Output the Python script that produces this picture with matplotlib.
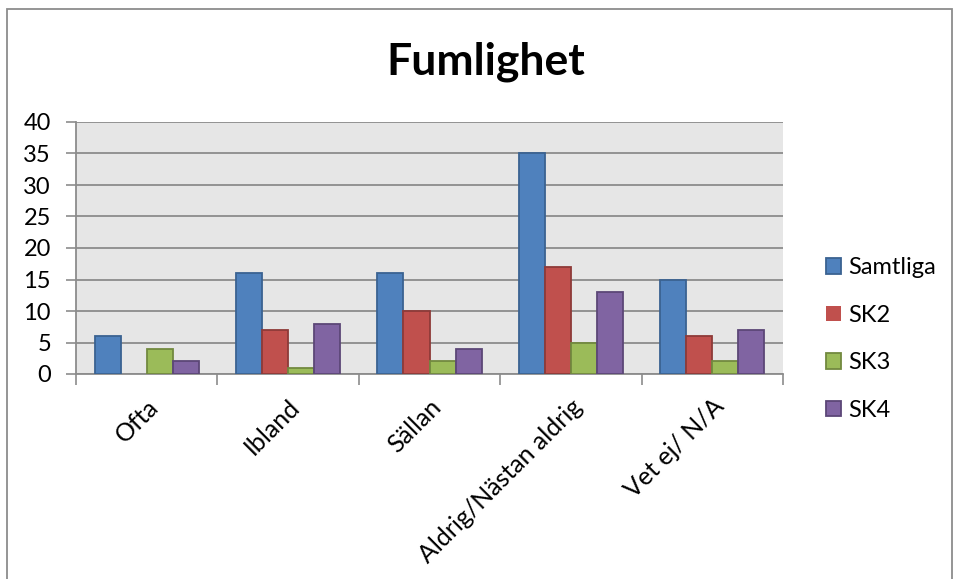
import matplotlib
matplotlib.use("Agg")
import matplotlib.pyplot as plt
import matplotlib.transforms as mtransforms
import numpy as np
from matplotlib.patches import Rectangle

categories = ["Ofta", "Ibland", "Sällan", "Aldrig/Nästan aldrig", "Vet ej/ N/A"]
series_names = ["Samtliga", "SK2", "SK3", "SK4"]
samtliga = [6, 16, 16, 35, 15]
sk2 = [0, 7, 10, 17, 6]
sk3 = [4, 1, 2, 5, 2]
sk4 = [2, 8, 4, 13, 7]
y_ticks = [0, 5, 10, 15, 20, 25, 30, 35, 40]

fills = ["#4F81BD", "#C0504D", "#9BBB59", "#8064A2"]
edges = ["#3A6291", "#8E3A38", "#72893F", "#5C4777"]

plt.rcParams['font.family'] = ['Lato', 'DejaVu Sans']
FS = 17

fig = plt.figure(figsize=(9.57, 5.79), dpi=100)
fig.patches.append(Rectangle((7/957, -0.05), 945/957, 1.05 - 9/579, transform=fig.transFigure,
                             fill=False, edgecolor="#8c8c8c", linewidth=1.3))
ax = fig.add_axes([76/957, 1 - 374/579, 707/957, 252/579])
ax.set_facecolor("#E6E6E6")

x = np.arange(len(categories))
bw = 0.184
data = [samtliga, sk2, sk3, sk4]
for i, (vals, fc, ec, name) in enumerate(zip(data, fills, edges, series_names)):
    offs = (i - 1.5) * bw
    lw = [1.3 if v > 0 else 0 for v in vals]
    ax.bar(x + offs, vals, width=bw, color=fc, edgecolor=ec, linewidth=lw, label=name, zorder=3)

ax.set_xlim(-0.5, len(categories) - 0.5)
ax.set_ylim(0, 40)
ax.set_yticks(y_ticks)
ax.tick_params(axis='y', labelsize=FS, length=7, color="#8c8c8c", width=1.2, pad=11)
ax.yaxis.grid(True, color="#8c8c8c", linewidth=1.3, zorder=0)
ax.set_axisbelow(True)

ax.set_xticks(np.arange(-0.5, len(categories)), minor=False)
ax.set_xticklabels([])
ax.set_xticks(x, minor=True)
ax.set_xticklabels(categories, minor=True, rotation=45, ha='right', va='top',
                   rotation_mode='anchor', fontsize=18)
offset = mtransforms.ScaledTranslation(5/100, 0, fig.dpi_scale_trans)
for lbl in ax.get_xticklabels(minor=True):
    lbl.set_transform(lbl.get_transform() + offset)
ax.tick_params(axis='x', which='major', length=8, color="#8c8c8c", width=1.2)
ax.tick_params(axis='x', which='minor', length=0, pad=15)

for s in ["top", "right"]:
    ax.spines[s].set_visible(False)
for s in ["left", "bottom"]:
    ax.spines[s].set_color("#8c8c8c")
    ax.spines[s].set_linewidth(1.3)

fig.text(486/957, 1 - 62/579, "Fumlighet", ha='center', va='center', fontsize=32, fontweight='bold')

leg = ax.legend(loc='center left', bbox_to_anchor=(826/957, 1 - 339/579), bbox_transform=fig.transFigure,
                frameon=False, fontsize=FS, handlelength=0.62, handleheight=0.62,
                handletextpad=0.3, labelspacing=1.12, borderpad=0, borderaxespad=0)

fig.savefig("out.png", dpi=100)
